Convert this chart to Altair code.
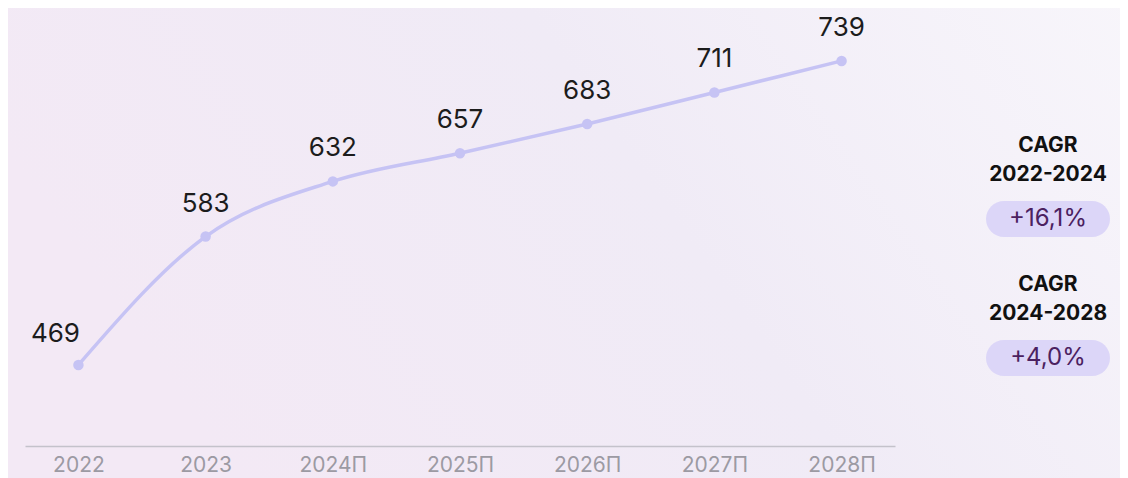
import altair as alt
import pandas as pd

years = ["2022", "2023", "2024П", "2025П", "2026П", "2027П", "2028П"]
values = [469, 583, 632, 657, 683, 711, 739]
cagr_titles = ["CAGR", "CAGR"]
cagr_periods = ["2022-2024", "2024-2028"]
cagr_values = ["+16,1%", "+4,0%"]

df = pd.DataFrame({"year": years, "value": values})

W, H = 870, 438
FONT = "Inter"

x = alt.X("year:N", sort=years, scale=alt.Scale(type="point", padding=0.42),
          axis=alt.Axis(title=None, labelAngle=0, labelFontSize=21, labelColor="#9c9aa3",
                        labelFont=FONT, ticks=False, domainColor="#c4c2cb", domainWidth=1.5,
                        labelPadding=8, grid=False, zindex=1))
y = alt.Y("value:Q", scale=alt.Scale(domain=[397, 786], nice=False, zero=False), axis=None)

base = alt.Chart(df)

bg = alt.Chart(pd.DataFrame({"a": [0]})).mark_rect(
    color=alt.Gradient(gradient="linear", x1=0, y1=0.3, x2=1, y2=0,
                       stops=[alt.GradientStop(color="#f3e9f5", offset=0),
                              alt.GradientStop(color="#f0ebf6", offset=0.5),
                              alt.GradientStop(color="#f8f6fb", offset=1)]),
    clip=False
).encode(x=alt.value(-25), x2=alt.value(1120), y=alt.value(-8), y2=alt.value(480))

line = base.mark_line(interpolate="monotone", color="#c6c3f4", strokeWidth=3.5).encode(x=x, y=y)
pts = base.mark_circle(size=110, color="#c6c3f4", opacity=1).encode(x=x, y=y)

lab_first = base.transform_filter(alt.datum.year == "2022").mark_text(
    dy=-31, dx=-23, fontSize=26, font=FONT, color="#1c1c1c").encode(x=x, y=y, text="value:Q")
lab_rest = base.transform_filter(alt.datum.year != "2022").mark_text(
    dy=-33, fontSize=26, font=FONT, color="#1c1c1c").encode(x=x, y=y, text="value:Q")

cdf = pd.DataFrame({"t": cagr_titles, "p": cagr_periods, "v": cagr_values, "i": [0, 1]})
layers = []
cx = 1048 - 25
for i in range(2):
    off = i * 139
    d = alt.Chart(cdf).transform_filter(alt.datum.i == i)
    layers.append(d.mark_text(fontSize=21, fontWeight="bold", font=FONT, color="#111111", clip=False)
                  .encode(text="t:N", x=alt.value(cx), y=alt.value(146 - 8 + off)))
    layers.append(d.mark_text(fontSize=21, fontWeight="bold", font=FONT, color="#111111", clip=False)
                  .encode(text="p:N", x=alt.value(cx), y=alt.value(175 - 8 + off)))
    layers.append(d.mark_rect(color="#dcd6f8", cornerRadius=18, clip=False)
                  .encode(x=alt.value(986 - 25), x2=alt.value(1110 - 25),
                          y=alt.value(201 - 8 + off), y2=alt.value(237 - 8 + off)))
    layers.append(d.mark_text(fontSize=24, font=FONT, color="#4b2160", clip=False)
                  .encode(text="v:N", x=alt.value(cx), y=alt.value(219 - 8 + off)))

chart = alt.layer(bg, line, pts, lab_first, lab_rest, *layers).properties(
    width=W, height=H,
    autosize=alt.AutoSizeParams(type="none"),
    padding={"left": 17, "top": 0, "right": 225, "bottom": 40},
).configure_view(stroke=None).configure(background="#f2ecf6")

chart.save("out.html", embed_options={"renderer": "svg", "actions": False})
